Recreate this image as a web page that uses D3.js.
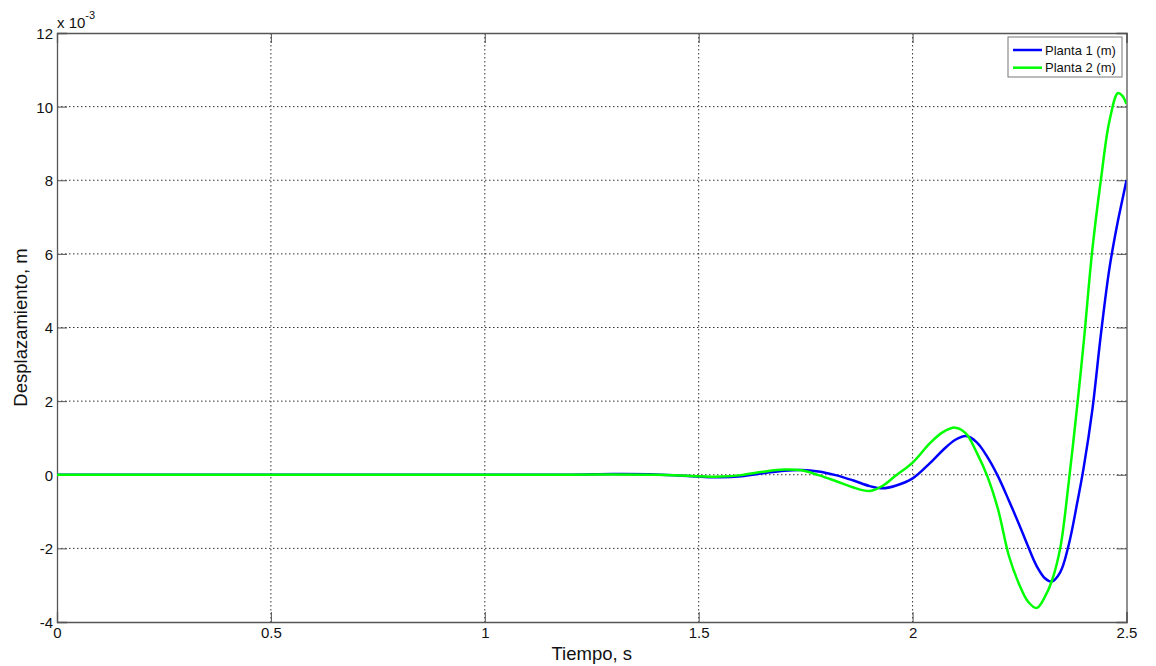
<!DOCTYPE html>
<html>
<head>
<meta charset="utf-8">
<script src="https://cdn.jsdelivr.net/npm/d3@7"></script>
<style>
  body { margin: 0; background: #fff; }
  svg { display: block; font-family: "Liberation Sans", Arial, sans-serif; }
</style>
</head>
<body>
<svg id="chart" width="1156" height="666"></svg>
<script>
// ---- data (values in units of 1e-3 m) ----
const tiempo = [0, 0.5, 1.0, 1.2, 1.3, 1.4, 1.5, 1.55, 1.6, 1.65, 1.7, 1.74, 1.78, 1.82, 1.86, 1.9, 1.93, 1.96, 2.0, 2.04, 2.07, 2.1, 2.125, 2.15, 2.175, 2.2, 2.225, 2.25, 2.27, 2.29, 2.31, 2.325, 2.345, 2.365, 2.385, 2.4, 2.42, 2.44, 2.46, 2.48, 2.49, 2.5];
const planta1 = [0, 0, 0, 0, 0.02, 0.01, -0.05, -0.07, -0.04, 0.04, 0.11, 0.13, 0.09, -0.01, -0.15, -0.31, -0.37, -0.30, -0.1, 0.31, 0.66, 0.95, 1.05, 0.88, 0.48, -0.05, -0.7, -1.38, -1.95, -2.48, -2.82, -2.9, -2.65, -1.9, -0.75, 0.2, 1.75, 3.8, 5.6, 6.9, 7.45, 8.0];
const planta2 = [0, 0, 0, 0, 0.01, 0.0, -0.04, -0.05, -0.01, 0.08, 0.14, 0.12, -0.01, -0.17, -0.34, -0.44, -0.30, -0.03, 0.33, 0.85, 1.15, 1.28, 1.12, 0.6, -0.05, -0.95, -2.2, -3.0, -3.45, -3.62, -3.3, -2.9, -2.0, -0.2, 1.9, 3.6, 6.1, 8.0, 9.6, 10.37, 10.3, 10.07];
const seriesNames = ["Planta 1 (m)", "Planta 2 (m)"];
const seriesColors = ["#0000ff", "#00ff00"];
const xTicks = [0, 0.5, 1, 1.5, 2, 2.5];
const yTicks = [-4, -2, 0, 2, 4, 6, 8, 10, 12];
const xLabel = "Tiempo, s";
const yLabel = "Desplazamiento, m";

// ---- layout ----
const W = 1156, H = 666;
const m = { left: 57, right: 29.5, top: 33, bottom: 44 };
const iw = W - m.left - m.right, ih = H - m.top - m.bottom;
const svg = d3.select("#chart");
const g = svg.append("g").attr("transform", `translate(${m.left},${m.top})`);

const x = d3.scaleLinear().domain([0, 2.5]).range([0, iw]);
const y = d3.scaleLinear().domain([-4, 12]).range([ih, 0]);

// grid
g.append("g").selectAll("line").data(xTicks.slice(1, -1)).join("line")
  .attr("x1", d => x(d)).attr("x2", d => x(d)).attr("y1", 0).attr("y2", ih)
  .attr("stroke", "#333").attr("stroke-width", 1).attr("stroke-dasharray", "1.5,2.5");
g.append("g").selectAll("line").data(yTicks.slice(1, -1)).join("line")
  .attr("y1", d => y(d)).attr("y2", d => y(d)).attr("x1", 0).attr("x2", iw)
  .attr("stroke", "#333").attr("stroke-width", 1).attr("stroke-dasharray", "1.5,2.5");

// axes (ticks inward)
const tl = 10;
const fmt = d => String(d);
const xAxis = g.append("g").attr("transform", `translate(0,${ih})`)
  .call(d3.axisBottom(x).tickValues(xTicks).tickSize(-tl).tickPadding(5).tickFormat(fmt));
const xAxisTop = g.append("g")
  .call(d3.axisTop(x).tickValues(xTicks).tickSize(-tl).tickFormat(""));
const yAxis = g.append("g")
  .call(d3.axisLeft(y).tickValues(yTicks).tickSize(-tl).tickPadding(4).tickFormat(fmt));
const yAxisR = g.append("g").attr("transform", `translate(${iw},0)`)
  .call(d3.axisRight(y).tickValues(yTicks).tickSize(-tl).tickFormat(""));
[xAxis, xAxisTop, yAxis, yAxisR].forEach(a => {
  a.select(".domain").attr("stroke", "#555").attr("stroke-width", 1.3);
  a.selectAll(".tick line").attr("stroke", "#555").attr("stroke-width", 1);
  a.selectAll("text").attr("font-size", 15).attr("fill", "#111")
    .attr("font-family", "Liberation Sans, Arial, sans-serif");
});
xAxis.selectAll("text").attr("dy", "0.71em");
yAxis.selectAll("text").attr("dy", "0.36em");

// lines
g.append("clipPath").attr("id", "clip").append("rect")
  .attr("width", iw).attr("height", ih);
const line = d3.line().x(d => x(d[0])).y(d => y(d[1])).curve(d3.curveCatmullRom.alpha(0.5));
[planta1, planta2].forEach((vals, i) => {
  g.append("path").datum(tiempo.map((t, k) => [t, vals[k]]))
    .attr("fill", "none").attr("stroke", seriesColors[i]).attr("stroke-width", 2.5)
    .attr("stroke-linejoin", "round").attr("clip-path", "url(#clip)")
    .attr("d", line);
});

// exponent label
const ex = svg.append("text").attr("x", m.left).attr("y", 28)
  .attr("font-size", 15).attr("fill", "#111");
ex.append("tspan").text("x 10");
ex.append("tspan").attr("font-size", 11).attr("dy", -9).text("-3");

// axis labels
svg.append("text").attr("x", m.left + iw / 2).attr("y", 660)
  .attr("text-anchor", "middle").attr("font-size", 18.5).attr("fill", "#111").text(xLabel);
svg.append("text").attr("transform", `translate(27,${m.top + ih / 2}) rotate(-90)`)
  .attr("text-anchor", "middle").attr("font-size", 18.5).attr("fill", "#111").text(yLabel);

// legend
const lg = svg.append("g");
lg.append("rect").attr("x", 1008).attr("y", 37).attr("width", 114).attr("height", 40)
  .attr("fill", "#fff").attr("stroke", "#777").attr("stroke-width", 1);
seriesNames.forEach((name, i) => {
  const yy = 50 + i * 17.7;
  lg.append("line").attr("x1", 1013).attr("x2", 1042).attr("y1", yy).attr("y2", yy)
    .attr("stroke", seriesColors[i]).attr("stroke-width", 2.5);
  lg.append("text").attr("x", 1045).attr("y", yy).attr("dy", "0.36em")
    .attr("font-size", 13).attr("fill", "#111").text(name);
});
</script>
</body>
</html>
